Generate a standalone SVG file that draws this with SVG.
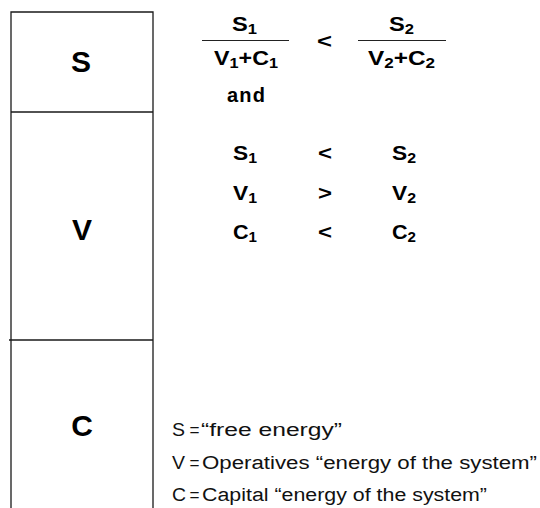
<svg xmlns="http://www.w3.org/2000/svg" width="540" height="508" viewBox="0 0 540 508">
  <style>
    .box { fill: none; stroke: #1a1a1a; stroke-width: 1.3; }
    .big { font-family: "Liberation Sans", Arial, sans-serif; font-weight: bold; font-size: 30px; fill: #000; text-anchor: middle; }
    .f { font-family: "Liberation Sans", Arial, sans-serif; font-weight: bold; font-size: 20px; fill: #000; }
    .sub { font-size: 14px; }
    .bar { stroke: #222; stroke-width: 1.2; }
    .leg { font-family: "Liberation Sans", Arial, sans-serif; font-size: 18px; fill: #111; }
  </style>

  <!-- stacked value column: S / V / C -->
  <g id="col-S">
    <path class="box" d="M11,112 V12 H153 V112"/>
    <text class="big" x="81" y="72">S</text>
  </g>
  <g id="col-V">
    <path class="box" d="M11,112 H153 M11,112 V340 M153,112 V340"/>
    <text class="big" x="82" y="240">V</text>
  </g>
  <g id="col-C">
    <path class="box" d="M9,340 H153 M11,340 V508 M153,340 V508"/>
    <text class="big" x="82" y="436">C</text>
  </g>

  <!-- rate comparison: S1/(V1+C1) < S2/(V2+C2) -->
  <g id="ratio">
    <text class="f" x="232" y="31" textLength="25" lengthAdjust="spacingAndGlyphs">S<tspan class="sub" dy="3">1</tspan></text>
    <line class="bar" x1="202" y1="40.5" x2="289" y2="40.5"/>
    <text class="f" x="214" y="65" textLength="64" lengthAdjust="spacingAndGlyphs">V<tspan class="sub" dy="3">1</tspan><tspan dy="-3">+C</tspan><tspan class="sub" dy="3">1</tspan></text>
    <text class="f" x="317" y="48" textLength="15" lengthAdjust="spacingAndGlyphs">&lt;</text>
    <text class="f" x="389" y="31" textLength="25" lengthAdjust="spacingAndGlyphs">S<tspan class="sub" dy="3">2</tspan></text>
    <line class="bar" x1="358" y1="40.5" x2="446" y2="40.5"/>
    <text class="f" x="368" y="65" textLength="67" lengthAdjust="spacingAndGlyphs">V<tspan class="sub" dy="3">2</tspan><tspan dy="-3">+C</tspan><tspan class="sub" dy="3">2</tspan></text>
  </g>

  <text class="f" x="227" y="102" textLength="38" lengthAdjust="spacing" font-size="17">and</text>

  <!-- term-by-term comparison -->
  <g id="terms">
    <text class="f" x="233" y="160" textLength="24" lengthAdjust="spacingAndGlyphs">S<tspan class="sub" dy="3">1</tspan></text>
    <text class="f" x="318" y="160" textLength="14" lengthAdjust="spacingAndGlyphs">&lt;</text>
    <text class="f" x="392" y="160" textLength="24" lengthAdjust="spacingAndGlyphs">S<tspan class="sub" dy="3">2</tspan></text>

    <text class="f" x="233" y="200" textLength="24" lengthAdjust="spacingAndGlyphs">V<tspan class="sub" dy="3">1</tspan></text>
    <text class="f" x="318" y="200" textLength="14" lengthAdjust="spacingAndGlyphs">&gt;</text>
    <text class="f" x="392" y="200" textLength="24" lengthAdjust="spacingAndGlyphs">V<tspan class="sub" dy="3">2</tspan></text>

    <text class="f" x="233" y="239" textLength="24" lengthAdjust="spacingAndGlyphs">C<tspan class="sub" dy="3">1</tspan></text>
    <text class="f" x="318" y="239" textLength="14" lengthAdjust="spacingAndGlyphs">&lt;</text>
    <text class="f" x="392" y="239" textLength="24" lengthAdjust="spacingAndGlyphs">C<tspan class="sub" dy="3">2</tspan></text>
  </g>

  <!-- legend -->
  <g id="legend">
    <text class="leg" x="172" y="436" textLength="13" lengthAdjust="spacingAndGlyphs">S</text>
    <text class="leg" x="189.5" y="436" textLength="10" lengthAdjust="spacingAndGlyphs">=</text>
    <text class="leg" x="201" y="436" textLength="141" lengthAdjust="spacingAndGlyphs">“free energy”</text>
    <text class="leg" x="172" y="469" textLength="13" lengthAdjust="spacingAndGlyphs">V</text>
    <text class="leg" x="189.5" y="469" textLength="10" lengthAdjust="spacingAndGlyphs">=</text>
    <text class="leg" x="202" y="469" textLength="335" lengthAdjust="spacingAndGlyphs">Operatives “energy of the system”</text>
    <text class="leg" x="172" y="501" textLength="14" lengthAdjust="spacingAndGlyphs">C</text>
    <text class="leg" x="189.5" y="501" textLength="10" lengthAdjust="spacingAndGlyphs">=</text>
    <text class="leg" x="202" y="501" textLength="285" lengthAdjust="spacingAndGlyphs">Capital “energy of the system”</text>
  </g>
</svg>
